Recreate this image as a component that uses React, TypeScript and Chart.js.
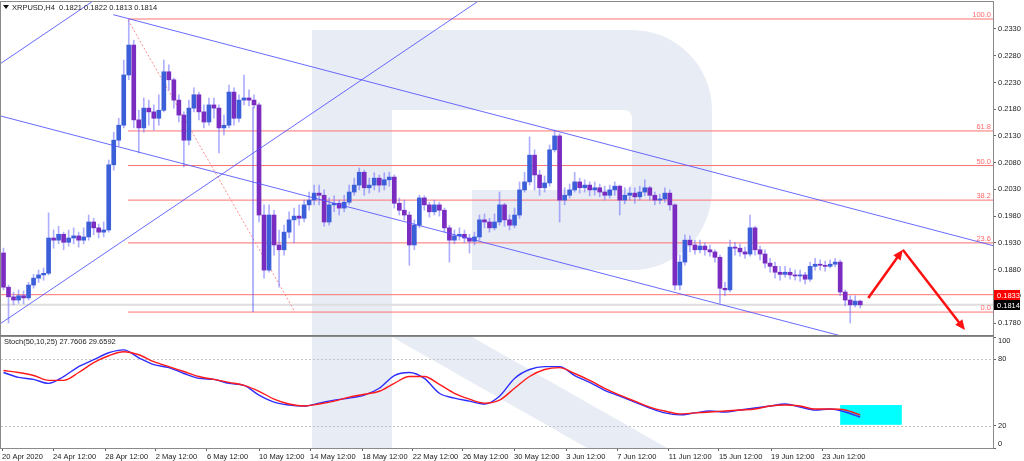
import React, { useEffect, useRef } from 'react';
import { Chart, registerables } from 'chart.js';
Chart.register(...registerables);

// ---------- data ----------
const symbolTitle = 'XRPUSD,H4  0.1821 0.1822 0.1813 0.1814';
const stochTitle = 'Stoch(50,10,25) 27.7606 29.6592';

const firstOpen = 0.1911;
const closes = [
  0.1847,0.1829,0.1823,0.1831,0.1827,0.1851,0.1864,0.1870,0.1873,0.1939,
  0.1935,0.1946,0.1931,0.1939,0.1943,0.1935,0.1941,0.1969,0.1958,0.1950,
  0.1954,0.2076,0.2122,0.2150,0.2244,0.2300,0.2160,0.2145,0.2182,0.2175,
  0.2163,0.2178,0.2250,0.2235,0.2197,0.2169,0.2122,0.2182,0.2207,0.2175,
  0.2156,0.2188,0.2182,0.2145,0.2150,0.2212,0.2163,0.2197,0.2201,0.2197,
  0.2188,0.1982,0.1879,0.1982,0.1926,0.1917,0.1950,0.1973,0.1980,0.1976,
  0.2001,0.2010,0.2023,0.2019,0.1969,0.2001,0.2004,0.1995,0.2006,0.2025,
  0.2038,0.2062,0.2033,0.2038,0.2051,0.2038,0.2048,0.2053,0.2004,0.1991,
  0.1982,0.1926,0.1963,0.2014,0.2001,0.1988,0.2001,0.1991,0.1958,0.1935,
  0.1943,0.1946,0.1939,0.1933,0.1941,0.1973,0.1969,0.1958,0.1969,0.2001,
  0.1973,0.1963,0.1982,0.2029,0.2044,0.2094,0.2057,0.2033,0.2042,0.2104,
  0.2130,0.2010,0.2019,0.2029,0.2044,0.2033,0.2038,0.2029,0.2033,0.2025,
  0.2019,0.2029,0.2036,0.2010,0.2019,0.2023,0.2016,0.2025,0.2033,0.2019,
  0.2010,0.2012,0.2023,0.2001,0.1851,0.1894,0.1935,0.1926,0.1917,0.1924,
  0.1917,0.1913,0.1903,0.1845,0.1842,0.1922,0.1920,0.1913,0.1909,0.1958,
  0.1917,0.1909,0.1892,0.1886,0.1875,0.1871,0.1875,0.1870,0.1868,0.1870,
  0.1862,0.1886,0.1890,0.1888,0.1886,0.1890,0.1894,0.1838,0.1823,0.1814,
  0.1821,0.1814,
];
const highs = [
  0.1920,0.1851,0.1838,0.1842,0.1840,0.1856,0.1871,0.1879,0.1883,0.1986,
  0.1954,0.1961,0.1950,0.1954,0.1958,0.1950,0.1958,0.1982,0.1976,0.1965,
  0.1969,0.2085,0.2137,0.2163,0.2272,0.2347,0.2309,0.2178,0.2201,0.2197,
  0.2188,0.2207,0.2272,0.2263,0.2238,0.2207,0.2175,0.2197,0.2220,0.2212,
  0.2188,0.2201,0.2201,0.2188,0.2169,0.2225,0.2220,0.2207,0.2244,0.2216,
  0.2207,0.2192,0.2001,0.2001,0.1991,0.1954,0.1963,0.1988,0.1995,0.2001,
  0.2010,0.2025,0.2038,0.2038,0.2029,0.2014,0.2018,0.2010,0.2019,0.2038,
  0.2051,0.2070,0.2066,0.2051,0.2061,0.2057,0.2061,0.2062,0.2057,0.2014,
  0.2010,0.1988,0.1973,0.2019,0.2018,0.2006,0.2010,0.2006,0.1995,0.1963,
  0.1954,0.1958,0.1954,0.1946,0.1950,0.1982,0.1984,0.1976,0.1984,0.2025,
  0.2004,0.1982,0.1995,0.2044,0.2062,0.2128,0.2104,0.2066,0.2055,0.2113,
  0.2141,0.2134,0.2033,0.2040,0.2062,0.2051,0.2048,0.2044,0.2044,0.2040,
  0.2036,0.2038,0.2044,0.2038,0.2033,0.2034,0.2033,0.2036,0.2048,0.2036,
  0.2025,0.2021,0.2033,0.2029,0.2003,0.1907,0.1945,0.1943,0.1935,0.1935,
  0.1930,0.1926,0.1917,0.1907,0.1856,0.1935,0.1931,0.1928,0.1922,0.1982,
  0.1961,0.1924,0.1917,0.1901,0.1894,0.1886,0.1886,0.1883,0.1879,0.1879,
  0.1875,0.1894,0.1901,0.1898,0.1896,0.1898,0.1901,0.1898,0.1842,0.1831,
  0.1831,0.1823,
];
const lows = [
  0.1842,0.1780,0.1814,0.1817,0.1816,0.1823,0.1845,0.1856,0.1860,0.1870,
  0.1920,0.1928,0.1917,0.1924,0.1928,0.1922,0.1928,0.1935,0.1945,0.1939,
  0.1941,0.1950,0.2066,0.2111,0.2145,0.2235,0.2145,0.2098,0.2137,0.2150,
  0.2141,0.2150,0.2175,0.2216,0.2182,0.2156,0.2072,0.2113,0.2175,0.2160,
  0.2145,0.2150,0.2163,0.2098,0.2132,0.2145,0.2150,0.2156,0.2188,0.2186,
  0.2182,0.1969,0.1864,0.1875,0.1907,0.1847,0.1907,0.1939,0.1930,0.1963,
  0.1969,0.1991,0.2001,0.2001,0.1961,0.1963,0.1988,0.1982,0.1988,0.2001,
  0.2019,0.2029,0.2019,0.2023,0.2029,0.2025,0.2029,0.2036,0.1995,0.1982,
  0.1973,0.1888,0.1917,0.1958,0.1991,0.1978,0.1982,0.1980,0.1950,0.1894,
  0.1928,0.1935,0.1930,0.1911,0.1926,0.1935,0.1958,0.1950,0.1954,0.1963,
  0.1961,0.1954,0.1958,0.1976,0.2025,0.2038,0.2029,0.2019,0.2025,0.2036,
  0.2100,0.1969,0.2001,0.2014,0.2025,0.2023,0.2025,0.2018,0.2019,0.2016,
  0.2010,0.2014,0.2019,0.1982,0.2003,0.2010,0.2004,0.2010,0.2018,0.2010,
  0.2001,0.2003,0.2006,0.1991,0.1842,0.1842,0.1888,0.1913,0.1909,0.1911,
  0.1907,0.1905,0.1894,0.1817,0.1831,0.1838,0.1907,0.1905,0.1901,0.1905,
  0.1907,0.1898,0.1883,0.1875,0.1864,0.1860,0.1866,0.1862,0.1860,0.1858,
  0.1853,0.1858,0.1879,0.1879,0.1877,0.1883,0.1885,0.1831,0.1812,0.1780,
  0.1810,0.1808,
];

const priceTicks = [0.178, 0.183, 0.188, 0.193, 0.198, 0.203, 0.208, 0.213, 0.218, 0.223, 0.228, 0.233];
const xTickLabels = ['20 Apr 2020', '24 Apr 12:00', '28 Apr 12:00', '2 May 12:00', '6 May 12:00', '10 May 12:00',
  '14 May 12:00', '18 May 12:00', '22 May 12:00', '26 May 12:00', '30 May 12:00', '3 Jun 12:00', '7 Jun 12:00',
  '11 Jun 12:00', '15 Jun 12:00', '19 Jun 12:00', '23 Jun 12:00'];
const xTickIdx = [-0.3, 9.9, 20.3, 30.4, 40.6, 51.0, 61.2, 71.6, 81.7, 91.7, 101.9, 112.3, 122.5, 132.8, 142.8, 153.2, 163.4];

// Fibonacci retracement
const fibHigh = 0.23487;
const fibLow = 0.18005;
const fibStartIdx = 24.85;
const fibLevels = [100, 61.8, 50, 38.2, 23.6, 0];
const alertPrice = 0.1833;
const lastPrice = 0.1814;

// trend lines: [idx1, price1, idx2, price2]
const trendLines = [
  [21.9, 0.23568, 197.5, 0.19248],
  [-0.7, 0.21676, 197.5, 0.16815],
  [-0.7, 0.17783, 94.5, 0.23805],
  [-0.7, 0.22647, 17.6, 0.23805],
  [49.8, 0.2184, 49.8, 0.18005],
];
const fibBaseLine = [24.85, 0.23468, 58.2, 0.18005];
const arrowPath = [[172.6, 0.1827], [179.5, 0.1917], [191.9, 0.1767]];

// stochastic
const stochIdx = [0,3,6,9,12,15,18,21,24,27,30,33,36,39,42,45,48,51,54,57,60,63,66,69,72,75,78,81,84,87,
  90,93,96,99,102,105,108,111,114,117,120,123,126,129,132,135,138,141,144,147,150,153,156,159,162,165,168,171];
const stochK = [68.0,63.6,61.8,58.2,64.4,73.3,79.6,85.8,88.4,81.3,
  75.1,72.4,67.1,62.7,61.8,58.2,56.4,47.6,41.3,38.7,
  37.8,40.4,43.1,44.9,47.6,53.8,65.3,68.0,62.7,49.3,
  44.9,42.2,39.6,46.7,62.7,70.7,73.3,73.3,65.3,59.1,
  52.0,46.7,41.3,36.0,31.6,29.8,31.6,33.3,32.4,34.2,
  36.0,37.8,39.6,36.9,34.2,35.1,32.4,27.8];
const stochD = [69.8,68.0,65.3,60.9,60.9,68.0,76.9,83.1,86.7,84.0,
  77.8,73.3,68.9,64.4,61.8,59.1,56.4,51.1,44.0,39.6,
  37.8,39.6,42.2,45.8,48.4,51.1,58.2,64.4,64.4,57.3,
  49.3,44.0,40.4,43.1,53.8,64.4,70.7,72.4,67.1,60.9,
  53.8,47.6,42.2,36.9,33.3,30.7,31.6,32.4,33.3,34.2,
  35.1,37.8,38.7,37.8,35.1,35.1,34.2,29.7];
const stochLevels = [20, 80];
const stochTicks = [0, 20, 80, 100];
const cyanBox = [167.0, 179.3, 20.9, 38.7]; // idx1, idx2, v1, v2

// ---------- style ----------
const FONT = '"Liberation Sans", Arial, sans-serif';
const FS = 7.5;
const BULL = '#3b5fd9';
const BEAR = '#7a2cc0';
const DOJI = '#8a8a8a';
const WICK = 'rgba(110,110,255,0.55)';
const X_MIN = -0.5;
const X_MAX = 197.5;
const MAIN_H = 336;
const STOCH_TOP = 330;
const STOCH_H = 131;

function drawWatermark(ctx: CanvasRenderingContext2D, offY: number) {
  ctx.save();
  ctx.translate(0, -offY);
  ctx.fillStyle = '#e8ecf4';
  ctx.beginPath();
  (ctx as any).roundRect(312, 30, 400, 240, [0, 80, 80, 0]);
  ctx.fill();
  ctx.globalCompositeOperation = 'destination-out';
  ctx.beginPath();
  (ctx as any).roundRect(392, 110, 240, 80, [0, 8, 8, 0]);
  ctx.fill();
  ctx.fillRect(392, 190, 80, 80);
  ctx.globalCompositeOperation = 'source-over';
  ctx.fillRect(312, 30, 80, 431);
  ctx.beginPath();
  ctx.moveTo(392, 337);
  ctx.lineTo(472, 337);
  ctx.lineTo(690, 461);
  ctx.lineTo(610, 461);
  ctx.closePath();
  ctx.fill();
  ctx.restore();
}

function clipArea(ctx: CanvasRenderingContext2D, a: any) {
  ctx.beginPath();
  ctx.rect(a.left, a.top, a.right - a.left, a.bottom - a.top);
  ctx.clip();
}

function arrowHead(ctx: CanvasRenderingContext2D, x0: number, y0: number, x1: number, y1: number) {
  const ang = Math.atan2(y1 - y0, x1 - x0);
  const L = 10, W = 4.5;
  ctx.beginPath();
  ctx.moveTo(x1, y1);
  ctx.lineTo(x1 - L * Math.cos(ang) + W * Math.sin(ang), y1 - L * Math.sin(ang) - W * Math.cos(ang));
  ctx.lineTo(x1 - L * Math.cos(ang) - W * Math.sin(ang), y1 - L * Math.sin(ang) + W * Math.cos(ang));
  ctx.closePath();
  ctx.fill();
}

const zeroPad = (s: any) => {
  s.paddingTop = 0;
  s.paddingBottom = 0;
  s.paddingLeft = 0;
  s.paddingRight = 0;
};

const mainPlugin = {
  id: 'mainDecor',
  beforeDraw(chart: any) {
    const { ctx, chartArea: a } = chart;
    ctx.save();
    clipArea(ctx, a);
    drawWatermark(ctx, 0);
    ctx.restore();
  },
  beforeDatasetsDraw(chart: any) {
    const { ctx, chartArea: a, scales } = chart;
    const x = scales.x, y = scales.y;
    ctx.save();
    clipArea(ctx, a);
    ctx.strokeStyle = '#dedede';
    ctx.lineWidth = 2;
    ctx.beginPath();
    ctx.moveTo(a.left, y.getPixelForValue(lastPrice));
    ctx.lineTo(a.right, y.getPixelForValue(lastPrice));
    ctx.stroke();
    ctx.strokeStyle = '#ff7070';
    ctx.lineWidth = 1;
    const fx = x.getPixelForValue(fibStartIdx);
    fibLevels.forEach((lv) => {
      const yy = y.getPixelForValue(fibLow + (lv / 100) * (fibHigh - fibLow));
      ctx.beginPath();
      ctx.moveTo(fx, yy);
      ctx.lineTo(a.right, yy);
      ctx.stroke();
    });
    const ay = y.getPixelForValue(alertPrice);
    ctx.beginPath();
    ctx.moveTo(a.left, ay);
    ctx.lineTo(a.right, ay);
    ctx.stroke();
    ctx.setLineDash([2, 2]);
    ctx.strokeStyle = '#ff8a8a';
    ctx.beginPath();
    ctx.moveTo(x.getPixelForValue(fibBaseLine[0]), y.getPixelForValue(fibBaseLine[1]));
    ctx.lineTo(x.getPixelForValue(fibBaseLine[2]), y.getPixelForValue(fibBaseLine[3]));
    ctx.stroke();
    ctx.setLineDash([]);
    ctx.restore();
  },
  afterDatasetsDraw(chart: any) {
    const { ctx, chartArea: a, scales } = chart;
    const x = scales.x, y = scales.y;
    ctx.save();
    clipArea(ctx, a);
    ctx.strokeStyle = 'rgba(80,80,255,0.85)';
    ctx.lineWidth = 1;
    trendLines.forEach((t) => {
      ctx.beginPath();
      ctx.moveTo(x.getPixelForValue(t[0]), y.getPixelForValue(t[1]));
      ctx.lineTo(x.getPixelForValue(t[2]), y.getPixelForValue(t[3]));
      ctx.stroke();
    });
    ctx.fillStyle = '#ff6a6a';
    ctx.font = `${FS}px ${FONT}`;
    ctx.textAlign = 'right';
    ctx.textBaseline = 'bottom';
    fibLevels.forEach((lv) => {
      const yy = y.getPixelForValue(fibLow + (lv / 100) * (fibHigh - fibLow));
      ctx.fillText(lv.toFixed(1), a.right - 2, yy);
    });
    ctx.strokeStyle = '#ff1010';
    ctx.fillStyle = '#ff1010';
    ctx.lineWidth = 2.5;
    const pts = arrowPath.map((p) => [x.getPixelForValue(p[0]), y.getPixelForValue(p[1])]);
    for (let i = 0; i < pts.length - 1; i++) {
      const [x0, y0] = pts[i];
      const [x1, y1] = pts[i + 1];
      const ang = Math.atan2(y1 - y0, x1 - x0);
      ctx.beginPath();
      ctx.moveTo(x0, y0);
      ctx.lineTo(x1 - 7 * Math.cos(ang), y1 - 7 * Math.sin(ang));
      ctx.stroke();
      arrowHead(ctx, x0, y0, x1, y1);
    }
    ctx.restore();
  },
  afterDraw(chart: any) {
    const { ctx, chartArea: a, scales } = chart;
    const y = scales.y;
    ctx.save();
    ctx.strokeStyle = '#8a8a8a';
    ctx.lineWidth = 1;
    ctx.strokeRect(a.left - 0.5, a.top - 0.5, a.right - a.left + 1, a.bottom - a.top + 1);
    ctx.fillStyle = '#7a7a7a';
    ctx.fillRect(a.left - 1, a.bottom, a.right - a.left + 2, 1.5);
    ctx.fillStyle = '#111';
    ctx.beginPath();
    ctx.moveTo(3, 5);
    ctx.lineTo(9, 5);
    ctx.lineTo(6, 9);
    ctx.closePath();
    ctx.fill();
    ctx.font = `${FS}px ${FONT}`;
    ctx.textAlign = 'left';
    ctx.textBaseline = 'middle';
    ctx.fillStyle = '#222';
    ctx.fillText(symbolTitle, 12, 7.5);
    const tag = (price: number, bg: string) => {
      const yy = Math.round(y.getPixelForValue(price));
      ctx.fillStyle = bg;
      ctx.fillRect(a.right + 1, yy - 5, 26, 10);
      ctx.fillStyle = '#fff';
      ctx.fillText(price.toFixed(4), a.right + 4, yy + 0.5);
    };
    tag(alertPrice, '#ff0000');
    tag(lastPrice, '#000000');
    ctx.restore();
  },
};

const stochPlugin = {
  id: 'stochDecor',
  beforeDraw(chart: any) {
    const { ctx, chartArea: a } = chart;
    ctx.save();
    clipArea(ctx, a);
    drawWatermark(ctx, STOCH_TOP);
    ctx.restore();
  },
  beforeDatasetsDraw(chart: any) {
    const { ctx, chartArea: a, scales } = chart;
    const x = scales.x, y = scales.y;
    ctx.save();
    clipArea(ctx, a);
    ctx.fillStyle = '#00ffff';
    const bx1 = x.getPixelForValue(cyanBox[0]);
    const bx2 = x.getPixelForValue(cyanBox[1]);
    const by1 = y.getPixelForValue(cyanBox[3]);
    const by2 = y.getPixelForValue(cyanBox[2]);
    ctx.fillRect(bx1, by1, bx2 - bx1, by2 - by1);
    ctx.strokeStyle = '#c4c4c4';
    ctx.lineWidth = 1;
    ctx.setLineDash([2, 2]);
    stochLevels.forEach((lv) => {
      const yy = Math.round(y.getPixelForValue(lv)) + 0.5;
      ctx.beginPath();
      ctx.moveTo(a.left, yy);
      ctx.lineTo(a.right, yy);
      ctx.stroke();
    });
    ctx.setLineDash([]);
    ctx.restore();
  },
  afterDraw(chart: any) {
    const { ctx, chartArea: a, scales } = chart;
    const y = scales.y;
    ctx.save();
    ctx.strokeStyle = '#8a8a8a';
    ctx.lineWidth = 1;
    ctx.strokeRect(a.left - 0.5, a.top - 0.5, a.right - a.left + 1, a.bottom - a.top + 1);
    ctx.font = `${FS}px ${FONT}`;
    ctx.textAlign = 'left';
    ctx.textBaseline = 'middle';
    ctx.fillStyle = '#222';
    ctx.fillText(stochTitle, 4, a.top + 5);
    // value-axis labels, kept inside the panel like the terminal does
    stochTicks.forEach((v) => {
      let yy = y.getPixelForValue(v);
      if (yy < a.top + 4) yy = a.top + 4;
      if (yy > a.bottom - 4) yy = a.bottom - 4;
      ctx.fillText(String(v), a.right + 5, yy);
    });
    ctx.restore();
  },
};

function mainConfig(): any {
  const opens = closes.map((c, i) => (i === 0 ? firstOpen : closes[i - 1]));
  const bodyData = closes.map((c, i) => ({ x: i, y: [opens[i], c] }));
  const wickData = closes.map((c, i) => ({ x: i, y: [lows[i], highs[i]] }));
  const bodyColors = closes.map((c, i) => (c > opens[i] ? BULL : c < opens[i] ? BEAR : DOJI));
  return {
    type: 'bar',
    data: {
      datasets: [
        { data: bodyData, backgroundColor: bodyColors, barThickness: 4, grouped: false, minBarLength: 1, borderWidth: 0 },
        { data: wickData, backgroundColor: WICK, barThickness: 1, grouped: false, borderWidth: 0 },
      ],
    },
    options: {
      animation: false,
      responsive: false,
      maintainAspectRatio: false,
      events: [],
      layout: { padding: { left: 1, top: 2, right: 0, bottom: 1 } },
      plugins: { legend: { display: false }, tooltip: { enabled: false } },
      scales: {
        x: { type: 'linear', min: X_MIN, max: X_MAX, display: false, offset: false },
        y: {
          type: 'linear',
          position: 'right',
          min: 0.17576,
          max: 0.23805,
          afterBuildTicks: (s: any) => { s.ticks = priceTicks.map((v) => ({ value: v })); },
          afterFit: (s: any) => { s.width = 31; zeroPad(s); },
          ticks: {
            autoSkip: false,
            callback: (v: any) => Number(v).toFixed(4),
            font: { family: FONT, size: FS },
            color: '#222',
            padding: 2,
          },
          grid: { drawOnChartArea: false, tickLength: 3, color: '#666' },
          border: { color: '#8a8a8a' },
        },
      },
    },
    plugins: [mainPlugin],
  };
}

function stochConfig(): any {
  return {
    type: 'line',
    data: {
      datasets: [
        {
          data: stochIdx.map((ix, i) => ({ x: ix, y: stochD[i] })),
          borderColor: '#ff1a1a',
          borderWidth: 1.4,
          pointRadius: 0,
          cubicInterpolationMode: 'monotone',
        },
        {
          data: stochIdx.map((ix, i) => ({ x: ix, y: stochK[i] })),
          borderColor: '#2d2dff',
          borderWidth: 1.4,
          pointRadius: 0,
          cubicInterpolationMode: 'monotone',
        },
      ],
    },
    options: {
      animation: false,
      responsive: false,
      maintainAspectRatio: false,
      events: [],
      layout: { padding: { left: 1, top: 7, right: 0, bottom: 0 } },
      plugins: { legend: { display: false }, tooltip: { enabled: false } },
      scales: {
        x: {
          type: 'linear',
          min: X_MIN,
          max: X_MAX,
          position: 'bottom',
          afterBuildTicks: (s: any) => { s.ticks = xTickIdx.map((v) => ({ value: v })); },
          afterFit: (s: any) => { s.height = 13; zeroPad(s); },
          ticks: {
            autoSkip: false,
            maxRotation: 0,
            align: 'start',
            callback: (_v: any, i: number) => xTickLabels[i] ?? '',
            font: { family: FONT, size: FS },
            color: '#222',
            padding: 1,
          },
          grid: { drawOnChartArea: false, tickLength: 3, color: '#666' },
          border: { color: '#8a8a8a' },
        },
        y: {
          type: 'linear',
          position: 'right',
          min: 0,
          max: 100,
          afterBuildTicks: (s: any) => { s.ticks = stochTicks.map((v) => ({ value: v })); },
          afterFit: (s: any) => { s.width = 31; zeroPad(s); },
          ticks: { display: false },
          grid: { drawOnChartArea: false, tickLength: 3, color: '#666' },
          border: { color: '#8a8a8a' },
        },
      },
    },
    plugins: [stochPlugin],
  };
}

export default function App() {
  const mainRef = useRef<HTMLCanvasElement>(null);
  const stochRef = useRef<HTMLCanvasElement>(null);
  useEffect(() => {
    document.body.style.margin = '0';
    const c1 = new Chart(mainRef.current as HTMLCanvasElement, mainConfig());
    const c2 = new Chart(stochRef.current as HTMLCanvasElement, stochConfig());
    return () => {
      c1.destroy();
      c2.destroy();
    };
  }, []);
  return (
    <div style={{ position: 'relative', width: 1024, height: 461, background: '#fff', overflow: 'hidden' }}>
      <canvas ref={mainRef} width={1024} height={MAIN_H} style={{ position: 'absolute', left: 0, top: 0 }} />
      <canvas ref={stochRef} width={1024} height={STOCH_H} style={{ position: 'absolute', left: 0, top: STOCH_TOP }} />
    </div>
  );
}
